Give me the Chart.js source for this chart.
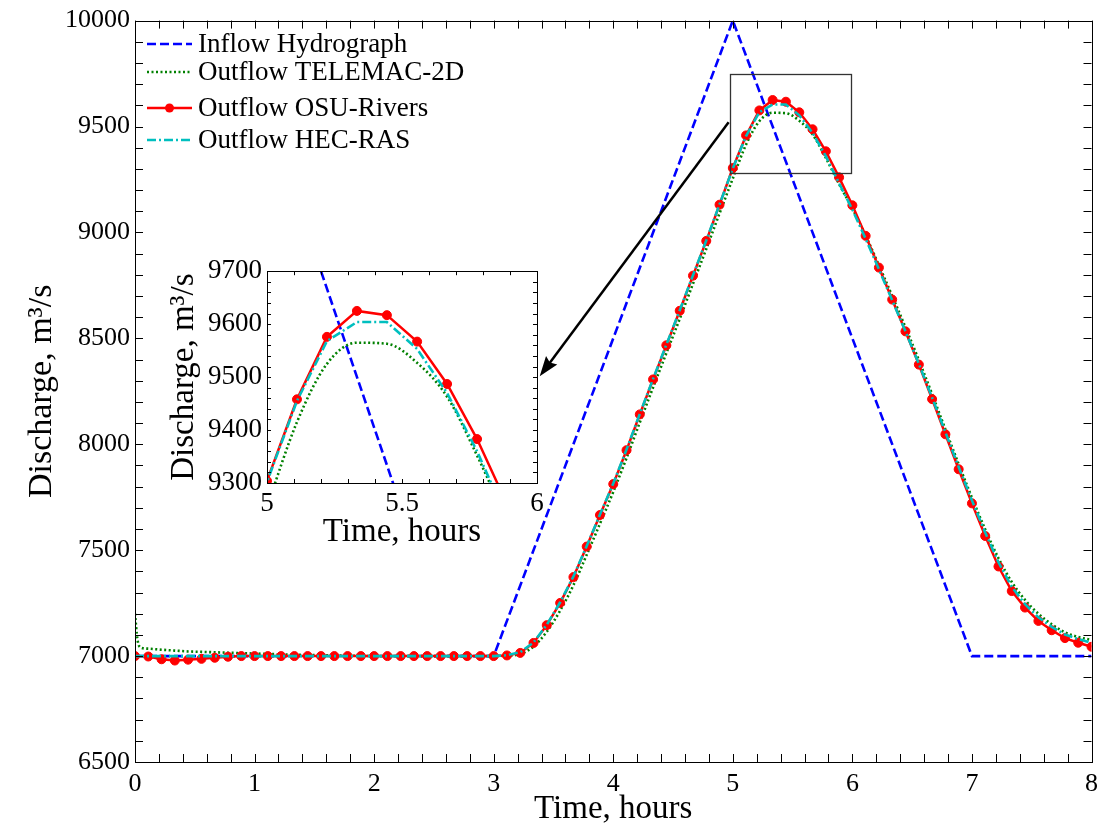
<!DOCTYPE html>
<html><head><meta charset="utf-8">
<script src="https://cdn.jsdelivr.net/npm/chart.js@4.4.0/dist/chart.umd.min.js"></script>
<style>
html,body{margin:0;padding:0;background:#fff;}
#wrap{position:relative;width:1105px;height:830px;overflow:hidden;}
#main{position:absolute;left:0;top:0;}
#inset{position:absolute;left:150px;top:250px;}
</style></head><body>
<div id="wrap"><canvas id="main" width="1105" height="830"></canvas><canvas id="inset" width="400" height="300"></canvas></div>
<script>
// ---------- data ----------
const inflowT = [0, 3, 5, 7, 8];
const inflowQ = [7000, 7000, 10000, 7000, 7000];

const outT = [0,0.111,0.222,0.333,0.444,0.556,0.667,0.778,0.889,1,1.111,1.222,1.333,1.444,1.556,1.667,1.778,1.889,2,2.111,2.222,2.333,2.444,2.556,2.667,2.778,2.889,3,3.111,3.222,3.333,3.444,3.556,3.667,3.778,3.889,4,4.111,4.222,4.333,4.444,4.556,4.667,4.778,4.889,5,5.111,5.222,5.333,5.444,5.556,5.667,5.778,5.889,6,6.111,6.222,6.333,6.444,6.556,6.667,6.778,6.889,7,7.111,7.222,7.333,7.444,7.556,7.667,7.778,7.889,8];

const osuQ = [7000,6998,6985,6979,6983,6987,6992,6997,7000,
  7000,7000,7000,7000,7000,7000,7000,7000,7000,7000,7000,7000,7000,7000,7000,7000,7000,7000,7000,
  7003,7015,7062,7146,7251,7373,7517,7666,7812,7972,8141,8306,8467,8630,8796,8960,9131,9304,9458,9576,9625,9617,9567,9487,9383,9260,9128,8984,8834,8683,8533,8376,8213,8047,7882,7721,7567,7423,7307,7229,7166,7122,7085,7063,7044];

const hecQ = [7000,7000,7000,7000,7000,7000,7000,7000,7000,7000,7000,7000,7000,7000,7000,7000,7000,7000,7000,7000,7000,7000,7000,7000,7000,7000,7000,7000,
  7004,7018,7064,7148,7254,7376,7520,7668,7815,7975,8143,8308,8470,8632,8798,8962,9132,9302,9455,9568,9604,9604,9553,9470,9360,9232,9108,8970,8826,8680,8533,8380,8220,8057,7893,7735,7583,7443,7327,7245,7183,7138,7102,7080,7062];

const telT = [0,0.02,0.05,0.111,0.222,0.333,0.444,0.556,0.667,0.778,0.889,1,1.111,1.222,1.333,1.444,1.556,1.667,1.778,1.889,2,2.111,2.222,2.333,2.444,2.556,2.667,2.778,2.889,3,3.111,3.222,3.333,3.444,3.556,3.667,3.778,3.889,4,4.111,4.222,4.333,4.444,4.556,4.667,4.778,4.889,5,5.111,5.222,5.333,5.444,5.556,5.667,5.778,5.889,6,6.111,6.222,6.333,6.444,6.556,6.667,6.778,6.889,7,7.111,7.222,7.333,7.444,7.556,7.667,7.778,7.889,8];
const telQ = [7200,7080,7040,7035,7030,7026,7022,7020,7018,7016,7014,7012,7010,7008,7006,7005,7004,7003,7002,7001,
  7000,7000,7000,7000,7000,7000,7000,7000,7000,7000,
  7002,7010,7045,7115,7215,7335,7478,7625,7775,7935,8103,8268,8430,8592,8758,8922,9090,9255,9415,9525,9565,9563,9527,9463,9352,9228,9113,8985,8845,8700,8552,8397,8236,8070,7906,7748,7598,7462,7350,7265,7200,7150,7112,7090,7076];

const mainXTicks = [0,1,2,3,4,5,6,7,8];
const mainYTicks = [6500,7000,7500,8000,8500,9000,9500,10000];
const insetXTicks = [5,5.5,6];
const insetYTicks = [9300,9400,9500,9600,9700];

const seriesNames = ['Inflow Hydrograph','Outflow TELEMAC-2D','Outflow OSU-Rivers','Outflow HEC-RAS'];

// ---------- styles ----------
const F = 'Liberation Serif';
const BLUE = '#0000ff', GREEN = '#008000', RED = '#ff0000', CYAN = '#00bfbf';
const pts = (t, q) => t.map((v, i) => ({x: v, y: q[i]}));

function makeDatasets(){
  return [
    {label: seriesNames[0], data: pts(inflowT, inflowQ), borderColor: BLUE, borderWidth: 2.6, borderDash: [9,4], pointRadius: 0, order: 4, tension: 0},
    {label: seriesNames[1], data: pts(telT, telQ), borderColor: GREEN, borderWidth: 2.6, borderDash: [2,2.5], pointRadius: 0, order: 3, cubicInterpolationMode: 'monotone'},
    {label: seriesNames[2], data: pts(outT, osuQ), borderColor: RED, borderWidth: 2.5, pointRadius: 4.5, pointBackgroundColor: RED, pointBorderColor: RED, pointBorderWidth: 1, order: 2, tension: 0},
    {label: seriesNames[3], data: pts(outT, hecQ), borderColor: CYAN, borderWidth: 2.6, borderDash: [9,3,2,3], pointRadius: 0, order: 1, tension: 0}
  ];
}

// frame + inward ticks on all four sides
const framePlugin = {
  id: 'frame',
  beforeDraw(chart, args, opts){
    if (opts.fillWhite){
      const a = chart.chartArea, c = chart.ctx;
      c.save(); c.fillStyle = '#fff'; c.fillRect(a.left, a.top, a.right - a.left, a.bottom - a.top); c.restore();
    }
  },
  afterDraw(chart, args, opts){
    const a = chart.chartArea, c = chart.ctx, xs = chart.scales.x, ys = chart.scales.y;
    c.save();
    c.strokeStyle = '#000'; c.lineWidth = 1;
    c.beginPath();
    const L = opts.len;
    const nx = Math.round((xs.max - xs.min) / opts.xMinor);
    for (let i = 0; i <= nx; i++){
      const px = Math.round(xs.getPixelForValue(xs.min + i * opts.xMinor)) + 0.5;
      c.moveTo(px, a.bottom); c.lineTo(px, a.bottom - L);
      c.moveTo(px, a.top); c.lineTo(px, a.top + L);
    }
    const ny = Math.round((ys.max - ys.min) / opts.yMinor);
    for (let i = 0; i <= ny; i++){
      const py = Math.round(ys.getPixelForValue(ys.min + i * opts.yMinor)) + 0.5;
      c.moveTo(a.left, py); c.lineTo(a.left + L, py);
      c.moveTo(a.right, py); c.lineTo(a.right - L, py);
    }
    c.stroke();
    c.strokeRect(Math.round(a.left) + 0.5, Math.round(a.top) + 0.5, Math.round(a.right - a.left), Math.round(a.bottom - a.top));
    c.restore();
  }
};

// zoom box, arrow and legend on the main chart
const mainExtras = {
  id: 'mainExtras',
  afterDraw(chart){
    const c = chart.ctx, xs = chart.scales.x, ys = chart.scales.y;
    c.save();
    // zoom box
    const bx0 = xs.getPixelForValue(4.98), bx1 = xs.getPixelForValue(5.99);
    const by0 = ys.getPixelForValue(9750), by1 = ys.getPixelForValue(9285);
    c.strokeStyle = '#333'; c.lineWidth = 1.3;
    c.strokeRect(Math.round(bx0) + 0.5, Math.round(by0) + 0.5, Math.round(bx1 - bx0), Math.round(by1 - by0));
    // arrow
    const ax0 = xs.getPixelForValue(4.965), ay0 = ys.getPixelForValue(9520);
    const ax1 = xs.getPixelForValue(3.385), ay1 = ys.getPixelForValue(8321);
    const ang = Math.atan2(ay1 - ay0, ax1 - ax0);
    const hl = 20, hw = 7;
    const bxp = ax1 - hl * Math.cos(ang), byp = ay1 - hl * Math.sin(ang);
    c.strokeStyle = '#000'; c.lineWidth = 2.5;
    c.beginPath(); c.moveTo(ax0, ay0); c.lineTo(bxp + 4 * Math.cos(ang), byp + 4 * Math.sin(ang)); c.stroke();
    c.fillStyle = '#000';
    c.beginPath();
    c.moveTo(ax1, ay1);
    c.lineTo(bxp - hw * Math.sin(ang), byp + hw * Math.cos(ang));
    c.lineTo(bxp + 3 * Math.cos(ang), byp + 3 * Math.sin(ang));
    c.lineTo(bxp + hw * Math.sin(ang), byp - hw * Math.cos(ang));
    c.closePath(); c.fill();
    // legend
    const ds = chart.data.datasets;
    const rowY = [44, 72, 108, 140];
    const x0 = 147, x1 = 192, tx = 198;
    c.font = '27px "' + F + '"';
    c.textBaseline = 'middle'; c.textAlign = 'left';
    ds.forEach((d, i) => {
      const y = rowY[i];
      c.strokeStyle = d.borderColor; c.lineWidth = d.borderWidth;
      c.setLineDash(d.borderDash || []);
      c.beginPath(); c.moveTo(x0, y); c.lineTo(x1, y); c.stroke();
      c.setLineDash([]);
      if (d.pointRadius){
        c.fillStyle = d.pointBackgroundColor;
        c.beginPath(); c.arc((x0 + x1) / 2, y, d.pointRadius, 0, Math.PI * 2); c.fill();
      }
      c.fillStyle = '#000';
      c.fillText(d.label, tx, y + 1);
    });
    c.restore();
  }
};

const fmt = v => String(Math.round(v * 10) / 10);

new Chart(document.getElementById('main'), {
  type: 'line',
  data: {datasets: makeDatasets()},
  options: {
    responsive: false, animation: false, devicePixelRatio: 1,
    layout: {padding: {left: 0, right: 12, top: 18, bottom: 0}},
    plugins: {legend: {display: false}, tooltip: {enabled: false},
      frame: {len: 8, xMinor: 0.2, yMinor: 100}},
    scales: {
      x: {type: 'linear', min: 0, max: 8,
        afterFit: s => { s.height = 68; },
        afterBuildTicks: s => { s.ticks = mainXTicks.map(v => ({value: v})); },
        grid: {display: false, drawTicks: false}, border: {display: false},
        ticks: {padding: 7, autoSkip: false, maxRotation: 0, color: '#000', font: {family: F, size: 26}, callback: fmt},
        title: {display: true, text: 'Time, hours', color: '#000', font: {family: F, size: 33}, padding: {top: 0, bottom: 1}}},
      y: {type: 'linear', min: 6500, max: 10000,
        afterFit: s => { s.width = 135; },
        afterBuildTicks: s => { s.ticks = mainYTicks.map(v => ({value: v})); },
        grid: {display: false, drawTicks: false}, border: {display: false},
        ticks: {padding: 5, autoSkip: false, color: '#000', font: {family: F, size: 26}, callback: fmt},
        title: {display: true, text: 'Discharge, m³/s', color: '#000', font: {family: F, size: 34}, padding: {top: 22, bottom: 0}}}
    }
  },
  plugins: [framePlugin, mainExtras]
});

new Chart(document.getElementById('inset'), {
  type: 'line',
  data: {datasets: makeDatasets()},
  options: {
    responsive: false, animation: false, devicePixelRatio: 1,
    layout: {padding: {left: 0, right: 13, top: 20, bottom: 0}},
    plugins: {legend: {display: false}, tooltip: {enabled: false},
      frame: {len: 4, xMinor: 0.1, yMinor: 20, fillWhite: true}},
    scales: {
      x: {type: 'linear', min: 5, max: 6,
        afterFit: s => { s.height = 67; },
        afterBuildTicks: s => { s.ticks = insetXTicks.map(v => ({value: v})); },
        grid: {display: false, drawTicks: false}, border: {display: false},
        ticks: {padding: 5, autoSkip: false, maxRotation: 0, color: '#000', font: {family: F, size: 27}, callback: fmt},
        title: {display: true, text: 'Time, hours', color: '#000', font: {family: F, size: 33}, padding: {top: 0, bottom: -2}}},
      y: {type: 'linear', min: 9300, max: 9700,
        afterFit: s => { s.width = 117; },
        afterBuildTicks: s => { s.ticks = insetYTicks.map(v => ({value: v})); },
        grid: {display: false, drawTicks: false}, border: {display: false},
        ticks: {padding: 5, autoSkip: false, color: '#000', font: {family: F, size: 27}, callback: fmt},
        title: {display: true, text: 'Discharge, m³/s', color: '#000', font: {family: F, size: 33}, padding: {top: 15, bottom: 0}}}
    }
  },
  plugins: [framePlugin]
});
</script>
</body></html>
